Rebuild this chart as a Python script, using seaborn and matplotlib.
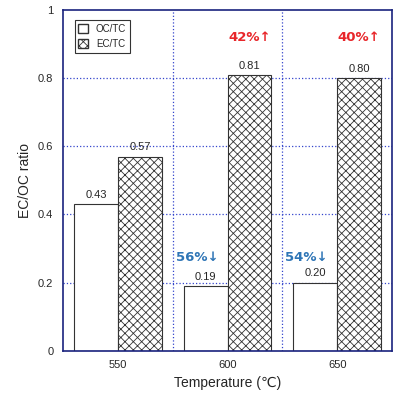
import matplotlib
matplotlib.use("Agg")
import matplotlib.pyplot as plt
import seaborn as sns
import pandas as pd
from matplotlib.patches import Patch

temps = ["550", "600", "650"]
oc_tc = [0.43, 0.19, 0.20]
ec_tc = [0.57, 0.81, 0.80]
dec_labels = ["", "56%↓", "54%↓"]
inc_labels = ["", "42%↑", "40%↑"]

df = pd.DataFrame({
    "Temperature": temps * 2,
    "ratio": oc_tc + ec_tc,
    "kind": ["OC/TC"] * 3 + ["EC/TC"] * 3,
})

sns.set_style("white")
plt.rcParams['font.family'] = ['Arial', 'Liberation Sans', 'DejaVu Sans']
plt.rcParams['hatch.linewidth'] = 0.6
fig, ax = plt.subplots(figsize=(4.07, 4.03), dpi=100)
fig.subplots_adjust(left=0.155, right=0.963, top=0.975, bottom=0.13)

sns.barplot(data=df, x="Temperature", y="ratio", hue="kind", palette=["white", "white"],
            edgecolor="#333333", linewidth=0.8, width=0.8, ax=ax, legend=False)
for p in ax.patches[3:6]:
    p.set_hatch("xxxx")

for i in range(3):
    ax.text(i - 0.2, oc_tc[i] + 0.012, f"{oc_tc[i]:.2f}", ha="center", va="bottom", fontsize=8)
    ax.text(i + 0.2, ec_tc[i] + 0.012, f"{ec_tc[i]:.2f}", ha="center", va="bottom", fontsize=8)
    if dec_labels[i]:
        ax.text(i - 0.28, 0.255, dec_labels[i], ha="center", va="bottom", fontsize=9.5,
                color="#2e75b6", fontweight="bold", family=["DejaVu Sans"])
        ax.text(i + 0.2, 0.9, inc_labels[i], ha="center", va="bottom", fontsize=9.5,
                color="#e8262a", fontweight="bold", family=["DejaVu Sans"])

ax.set_ylim(0, 1)
ax.set_xlim(-0.5, 2.5)
ax.set_yticks([0, 0.2, 0.4, 0.6, 0.8, 1])
ax.set_yticklabels(["0", "0.2", "0.4", "0.6", "0.8", "1"], fontsize=8)
ax.tick_params(axis="x", labelsize=8)
for y in [0.2, 0.4, 0.6, 0.8]:
    ax.axhline(y, color="#3344cc", ls=":", lw=0.9, zorder=0)
for x in [0.5, 1.5]:
    ax.axvline(x, color="#3344cc", ls=":", lw=0.9, zorder=0)
for s in ax.spines.values():
    s.set_color("#1a237e")
    s.set_linewidth(1.2)
ax.set_xlabel("Temperature (℃)", fontsize=10)
ax.set_ylabel("EC/OC ratio", fontsize=10)

handles = [Patch(facecolor="white", edgecolor="#333333", label="OC/TC"),
           Patch(facecolor="white", edgecolor="#333333", hatch="xxxx", label="EC/TC")]
leg = ax.legend(handles=handles, loc="upper left", fontsize=7, frameon=True, fancybox=False,
                edgecolor="black", handlelength=1.0, handleheight=1.0, bbox_to_anchor=(0.02, 0.985))
leg.get_frame().set_linewidth(0.8)

fig.savefig("out.png", dpi=100)
